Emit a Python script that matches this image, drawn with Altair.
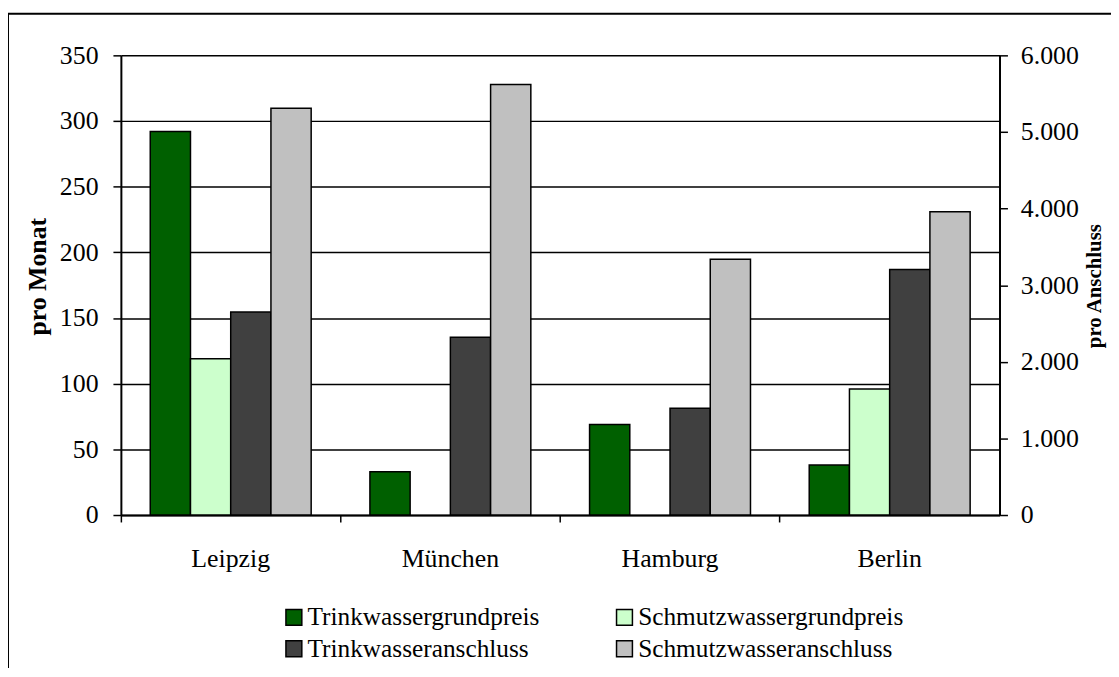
import altair as alt
import pandas as pd

# ---------------- data ----------------
cities = ["Leipzig", "München", "Hamburg", "Berlin"]
series = ["Trinkwassergrundpreis", "Schmutzwassergrundpreis",
          "Trinkwasseranschluss", "Schmutzwasseranschluss"]
colors = ["#006000", "#CCFFCC", "#404040", "#C0C0C0"]

# pro Monat (left axis)
trinkwasser_grundpreis = [292, 33, 69, 38]
schmutzwasser_grundpreis = [119, None, None, 96]
# pro Anschluss (right axis)
trinkwasser_anschluss = [2650, 2320, 1395, 3205]
schmutzwasser_anschluss = [5310, 5620, 3340, 3960]

left_ticks = [0, 50, 100, 150, 200, 250, 300, 350]
right_ticks = [0, 1000, 2000, 3000, 4000, 5000, 6000]

rows = []
for name, vals, side in [
    (series[0], trinkwasser_grundpreis, "left"),
    (series[1], schmutzwasser_grundpreis, "left"),
    (series[2], trinkwasser_anschluss, "right"),
    (series[3], schmutzwasser_anschluss, "right"),
]:
    for c, v in zip(cities, vals):
        if v is not None:
            rows.append({"city": c, "series": name, "value": v, "side": side})
df = pd.DataFrame(rows)

# legend fills column by column: order entries so rows read as in the original
legend_order = [series[0], series[2], series[1], series[3]]
legend_colors = [colors[0], colors[2], colors[1], colors[3]]

# ---------------- layout ----------------
W, H = 885, 463
PL, PT = 113.7, 45.3
PR = 1111 - W - PL
PB = 660 - H - PT
FONT = "Liberation Serif"

x_enc = alt.X(
    "city:N", sort=cities,
    scale=alt.Scale(paddingInner=0, paddingOuter=0),
    axis=alt.Axis(title=None, bandPosition=0, tickSize=7,
                  tickWidth=1.5, tickColor="black", domainColor="black",
                  domainWidth=2, labelAngle=0, labelFontSize=26,
                  labelColor="black", labelPadding=45,
                  labelBaseline="alphabetic", grid=False),
)
xoff_enc = alt.XOffset("series:N", sort=series,
                       scale=alt.Scale(domain=series, paddingInner=0,
                                       paddingOuter=0.73))
color_enc = alt.Color(
    "series:N",
    scale=alt.Scale(domain=legend_order, range=legend_colors),
    legend=alt.Legend(orient="none", legendX=161.5, legendY=553, columns=2,
                      columnPadding=72, rowPadding=5, symbolType="square",
                      symbolSize=256, symbolStrokeColor="black",
                      symbolStrokeWidth=1.5, symbolOpacity=1,
                      labelFontSize=25.5, labelFont=FONT, labelColor="black",
                      labelOffset=1, labelLimit=0, title=None, padding=0),
)

base = alt.Chart(df)

left_bars = base.transform_filter(alt.datum.side == "left").mark_bar(
    stroke="black", strokeWidth=1.5, opacity=1
).encode(
    x=x_enc,
    xOffset=xoff_enc,
    color=color_enc,
    y=alt.Y("value:Q",
            scale=alt.Scale(domain=[0, 350], nice=False, zero=True),
            axis=alt.Axis(values=left_ticks, title="pro Monat",
                          titleFontSize=26, titleFontWeight="bold",
                          titleColor="black", titleAngle=270,
                          titleAlign="center", titleBaseline="middle",
                          titleX=-83.5, titleY=222.5,
                          grid=True, gridColor="black", gridWidth=1.5,
                          gridOpacity=1, tickSize=8, tickWidth=1.5,
                          tickColor="black", domainColor="black",
                          domainWidth=2, labelFontSize=26,
                          labelColor="black", labelPadding=15,
                          orient="left")),
)

right_bars = base.transform_filter(alt.datum.side == "right").mark_bar(
    stroke="black", strokeWidth=1.5, opacity=1
).encode(
    x=x_enc,
    xOffset=xoff_enc,
    color=color_enc,
    y=alt.Y("value:Q",
            scale=alt.Scale(domain=[0, 6000], nice=False, zero=True),
            axis=alt.Axis(values=right_ticks, title="pro Anschluss",
                          titleFontSize=21, titleFontWeight="bold",
                          titleColor="black", titleAngle=270,
                          titleAlign="center", titleBaseline="middle",
                          titleX=95.5, titleY=232,
                          grid=False, tickSize=8, tickWidth=1.5,
                          tickColor="black", domainColor="black",
                          domainWidth=2, labelFontSize=26,
                          labelColor="black", labelPadding=13,
                          labelExpr="replace(format(datum.value, ','), ',', '.')",
                          orient="right")),
)

frame = alt.Chart(pd.DataFrame({"k": [0]})).mark_rect(
    fillOpacity=0, stroke="black", strokeWidth=2
).encode(
    x=alt.value(0 - PL), x2=alt.value(W + PR + 40),
    y=alt.value(3.5 - PT), y2=alt.value(H + PB + 40),
)

chart = alt.layer(left_bars, right_bars, frame).resolve_scale(
    y="independent"
).properties(
    width=W, height=H,
    autosize=alt.AutoSizeParams(type="none"),
    padding={"left": PL, "top": PT, "right": PR, "bottom": PB},
    background="white",
).configure(font=FONT).configure_view(strokeWidth=0)

chart.save("out.html", embed_options={"renderer": "svg", "actions": False})
